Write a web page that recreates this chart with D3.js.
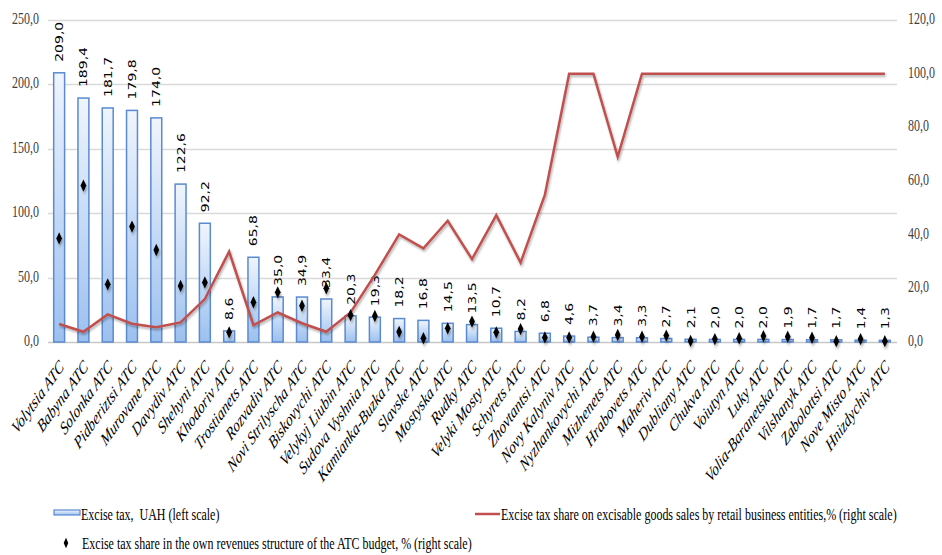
<!DOCTYPE html>
<html>
<head>
<meta charset="utf-8">
<script src="https://cdn.jsdelivr.net/npm/d3@7"></script>
<style>
  body { margin: 0; background: #fff; }
  svg { display: block; }
  .legend text { white-space: pre; }
</style>
</head>
<body>
<svg id="chart" width="942" height="555"></svg>
<script>
// Amalgamated territorial communities (ATC)
const categories = [
  "Volytsia ATC", "Babyna ATC", "Solonka ATC", "Pidberiztsi ATC", "Murovane ATC",
  "Davydiv ATC", "Shehyni ATC", "Khodoriv ATC", "Trostianets ATC", "Rozvadiv ATC",
  "Novi Strilyscha ATC", "Biskovychi ATC", "Velykyj Liubin ATC", "Sudova Vyshnia ATC",
  "Kamianka-Buzka ATC", "Slavske ATC", "Mostyska ATC", "Rudky ATC", "Velyki Mosty ATC",
  "Schyrets ATC", "Zhovtantsi ATC", "Novy Kalyniv ATC", "Nyzhankovychi ATC",
  "Mizhenets ATC", "Hrabovets ATC", "Maheriv ATC", "Dubliany ATC", "Chukva ATC",
  "Voiutyn ATC", "Luky ATC", "Volia-Baranetska ATC", "Vilshanyk ATC", "Zabolottsi ATC",
  "Nove Misto ATC", "Hnizdychiv ATC"
];

// Excise tax, UAH (left scale)
const exciseTax = [
  209.0, 189.4, 181.7, 179.8, 174.0, 122.6, 92.2, 8.6, 65.8, 35.0,
  34.9, 33.4, 20.3, 19.3, 18.2, 16.8, 14.5, 13.5, 10.7, 8.2,
  6.8, 4.6, 3.7, 3.4, 3.3, 2.7, 2.1, 2.0, 2.0, 2.0,
  1.9, 1.7, 1.7, 1.4, 1.3
];

// Excise tax share on excisable goods sales by retail business entities, % (right scale)
const retailShare = [
  6.7, 3.8, 10.3, 6.8, 5.5, 7.3, 16.0, 33.7, 6.3, 11.0,
  7.0, 3.8, 11.0, 25.0, 40.1, 34.9, 45.2, 30.9, 47.3, 29.6,
  54.8, 100, 100, 69.0, 100, 100, 100, 100, 100, 100,
  100, 100, 100, 100, 100
];

// Excise tax share in the own revenues structure of the ATC budget, % (right scale)
const budgetShare = [
  38.6, 58.3, 21.5, 43.0, 34.3, 20.9, 22.2, 3.6, 14.8, 18.5,
  13.5, 20.0, 10.0, 9.7, 3.8, 1.4, 5.1, 7.6, 3.6, 4.8,
  1.7, 1.7, 2.0, 2.6, 2.0, 2.4, 0.4, 1.1, 1.4, 2.2,
  2.0, 1.6, 0.3, 1.1, 0.3
];

const leftTicks = [0, 50, 100, 150, 200, 250];
const rightTicks = [0, 20, 40, 60, 80, 100, 120];

const legendLabels = [
  "Excise tax,  UAH (left scale)",
  "Excise tax share on excisable goods sales by retail business entities,% (right scale)",
  "Excise tax share in the own revenues structure of the ATC budget, % (right scale)"
];

// ---- layout ----
const plot = { left: 47, right: 897, top: 20, bottom: 342 };
const textStretch = 1.4;   // tall, narrow lettering used throughout the chart
const serif = "'Liberation Serif', 'Times New Roman', serif";
const sans = "'DejaVu Sans', Verdana, sans-serif";
const fmt = v => d3.format(".1f")(v).replace(".", ",");

const svg = d3.select("#chart");

const x = d3.scaleBand()
  .domain(categories)
  .range([plot.left, plot.right])
  .paddingInner(0.55)
  .paddingOuter(0.275);

const yLeft = d3.scaleLinear().domain([0, 250]).range([plot.bottom, plot.top]);
const yRight = d3.scaleLinear().domain([0, 120]).range([plot.bottom, plot.top]);

// ---- defs: bar gradient, shadows ----
const defs = svg.append("defs");
const grad = defs.append("linearGradient")
  .attr("id", "barFill").attr("x1", 0).attr("y1", 0).attr("x2", 0).attr("y2", 1);
grad.append("stop").attr("offset", "0%").attr("stop-color", "#f0f5fd");
grad.append("stop").attr("offset", "100%").attr("stop-color", "#9cc0ef");

const shadow = defs.append("filter").attr("id", "shadow")
  .attr("x", "-20%").attr("y", "-20%").attr("width", "140%").attr("height", "160%");
shadow.append("feDropShadow")
  .attr("dx", 1).attr("dy", 2).attr("stdDeviation", 1.2)
  .attr("flood-color", "#000").attr("flood-opacity", 0.3);

// ---- gridlines (left scale) ----
svg.append("g")
  .selectAll("line")
  .data(leftTicks)
  .join("line")
  .attr("x1", plot.left + 1).attr("x2", plot.right)
  .attr("y1", d => Math.round(yLeft(d)) + 0.5)
  .attr("y2", d => Math.round(yLeft(d)) + 0.5)
  .attr("stroke", d => d === 0 ? "#c8c8c8" : "#d9d9d9")
  .attr("stroke-width", 1.3);

// ---- left axis labels ----
const leftAxis = d3.axisLeft(yLeft).tickValues(leftTicks).tickFormat(fmt).tickSize(0).tickPadding(0);
const gl = svg.append("g").attr("transform", `translate(${plot.left - 8},0)`).call(leftAxis);
gl.select(".domain").remove();
gl.selectAll("text")
  .attr("font-family", serif).attr("font-size", 12).attr("fill", "#404040")
  .attr("dy", null).attr("x", null)
  .attr("transform", d => `translate(0,${yLeft(d) + 4}) scale(1,${textStretch})`)
  .attr("y", 0);
gl.selectAll(".tick").attr("transform", null);

// ---- right axis labels ----
const rightAxis = d3.axisRight(yRight).tickValues(rightTicks).tickFormat(fmt).tickSize(0).tickPadding(0);
const gr = svg.append("g").attr("transform", `translate(${plot.right + 11},0)`).call(rightAxis);
gr.select(".domain").remove();
gr.selectAll("text")
  .attr("font-family", serif).attr("font-size", 12).attr("fill", "#404040")
  .attr("dy", null).attr("x", null)
  .attr("transform", d => `translate(0,${yRight(d) + 4}) scale(1,${textStretch})`)
  .attr("y", 0);
gr.selectAll(".tick").attr("transform", null);

// ---- bars ----
svg.append("g")
  .selectAll("rect")
  .data(exciseTax)
  .join("rect")
  .attr("x", (d, i) => x(categories[i]))
  .attr("width", x.bandwidth())
  .attr("y", d => yLeft(d))
  .attr("height", d => plot.bottom - yLeft(d))
  .attr("fill", "url(#barFill)")
  .attr("stroke", "#5a8ad0")
  .attr("stroke-width", 1.5);

// ---- bar value labels ----
svg.append("g")
  .selectAll("text")
  .data(exciseTax)
  .join("text")
  .attr("transform", (d, i) =>
    `translate(${x(categories[i]) + x.bandwidth() / 2 + 4},${yLeft(d) - 11}) scale(1,${textStretch}) rotate(-90)`)
  .attr("font-family", sans).attr("font-size", 10).attr("fill", "#000")
  .text(d => fmt(d));

// ---- retail share line ----
const line = d3.line()
  .x((d, i) => x(categories[i]) + x.bandwidth() / 2)
  .y(d => yRight(d));
svg.append("path")
  .datum(retailShare)
  .attr("d", line)
  .attr("fill", "none")
  .attr("stroke", "#c0504d")
  .attr("stroke-width", 2.5)
  .attr("stroke-linejoin", "miter")
  .attr("filter", "url(#shadow)");

// ---- budget share diamonds ----
const diamond = d3.symbol(d3.symbolDiamond, 26);
svg.append("g")
  .selectAll("path")
  .data(budgetShare)
  .join("path")
  .attr("d", diamond)
  .attr("transform", (d, i) =>
    `translate(${x(categories[i]) + x.bandwidth() / 2},${yRight(d)}) scale(1.05,1.3)`)
  .attr("fill", "#000")
  .attr("filter", "url(#shadow)");

// ---- category labels ----
svg.append("g")
  .selectAll("text")
  .data(categories)
  .join("text")
  .attr("transform", d =>
    `translate(${x(d) + x.bandwidth() / 2 + 5.5},368) scale(1,${textStretch}) rotate(-45)`)
  .attr("text-anchor", "end")
  .attr("font-family", serif).attr("font-style", "italic").attr("font-size", 13)
  .attr("fill", "#000")
  .text(d => d);

// ---- legend ----
const legend = svg.append("g").attr("class", "legend");
legend.append("rect")
  .attr("x", 54).attr("y", 510).attr("width", 26).attr("height", 5)
  .attr("fill", "url(#barFill)").attr("stroke", "#5a8ad0").attr("stroke-width", 1.2);
legend.append("text")
  .attr("transform", `translate(81,520) scale(1,${textStretch})`)
  .attr("font-family", serif).attr("font-size", 12).attr("fill", "#000")
  .text(legendLabels[0]);

legend.append("line")
  .attr("x1", 475).attr("x2", 500).attr("y1", 514).attr("y2", 514)
  .attr("stroke", "#c0504d").attr("stroke-width", 2.5);
legend.append("text")
  .attr("transform", `translate(501,520) scale(1,${textStretch})`)
  .attr("font-family", serif).attr("font-size", 12).attr("fill", "#000")
  .text(legendLabels[1]);

legend.append("path")
  .attr("d", d3.symbol(d3.symbolDiamond, 18)())
  .attr("transform", `translate(66,543) scale(1,1.3)`)
  .attr("fill", "#000");
legend.append("text")
  .attr("transform", `translate(82,549) scale(1,${textStretch})`)
  .attr("font-family", serif).attr("font-size", 12).attr("fill", "#000")
  .text(legendLabels[2]);
</script>
</body>
</html>
